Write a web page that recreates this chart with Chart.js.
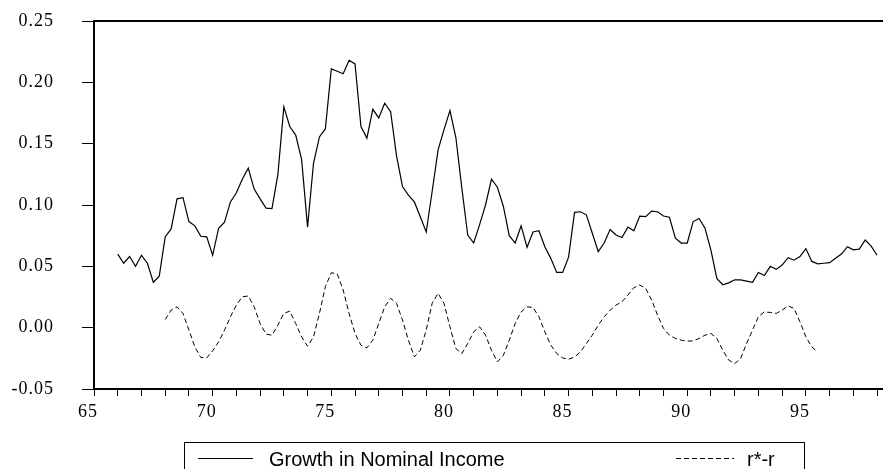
<!DOCTYPE html>
<html>
<head>
<meta charset="utf-8">
<script src="https://cdn.jsdelivr.net/npm/chart.js@4.4.1/dist/chart.umd.min.js"></script>
<style>
  html, body { margin: 0; padding: 0; background: #fff; }
  #wrap { position: relative; width: 883px; height: 469px; }
</style>
</head>
<body>
<div id="wrap"><canvas id="chart" width="883" height="469"></canvas></div>
<script>
// Quarterly series
const INCOME_START = 66;   // first quarter of 1966
const GAP_START = 68;      // first quarter of 1968

const incomeGrowth = [
    0.060, 0.0525, 0.058, 0.050,     // 66
    0.059, 0.0525, 0.037, 0.042,     // 67
    0.074, 0.0805, 0.105, 0.106,     // 68
    0.0865, 0.083, 0.0745, 0.074,    // 69
    0.059, 0.081, 0.086, 0.1025,     // 70
    0.110, 0.121, 0.130, 0.113,      // 71
    0.105, 0.0975, 0.097, 0.125,     // 72
    0.180, 0.164, 0.157, 0.137,      // 73
    0.082, 0.134, 0.1555, 0.162,     // 74
    0.211, 0.209, 0.207, 0.218,      // 75
    0.215, 0.164, 0.1545, 0.178,     // 76
    0.171, 0.183, 0.176, 0.140,      // 77
    0.115, 0.108, 0.1025, 0.0905,    // 78
    0.078, 0.111, 0.145, 0.1615,     // 79
    0.177, 0.155, 0.114, 0.0755,     // 80
    0.069, 0.084, 0.100, 0.121,      // 81
    0.1145, 0.099, 0.075, 0.069,     // 82
    0.083, 0.0655, 0.078, 0.079,     // 83
    0.066, 0.0565, 0.045, 0.045,     // 84
    0.0575, 0.094, 0.0945, 0.092,    // 85
    0.077, 0.062, 0.069, 0.080,      // 86
    0.0755, 0.0735, 0.082, 0.079,    // 87
    0.091, 0.0905, 0.095, 0.0945,    // 88
    0.091, 0.090, 0.073, 0.069,      // 89
    0.069, 0.0865, 0.089, 0.081,     // 90
    0.063, 0.040, 0.035, 0.0365,     // 91
    0.039, 0.039, 0.038, 0.037,      // 92
    0.045, 0.0425, 0.050, 0.0475,    // 93
    0.051, 0.057, 0.055, 0.058,      // 94
    0.0645, 0.054, 0.052, 0.0525,    // 95
    0.053, 0.0565, 0.060, 0.066,     // 96
    0.0635, 0.064, 0.0715, 0.0665,   // 97
    0.059                            // 98
];

const rStarGap = [
    0.0067, 0.0143, 0.017, 0.0116,       // 68
    -0.002, -0.0157, -0.0243, -0.0247,   // 69
    -0.0189, -0.0116, -0.002, 0.0089,    // 70
    0.0184, 0.0252, 0.0258, 0.017,       // 71
    0.0034, -0.0053, -0.0061, 0.0021,    // 72
    0.0116, 0.0135, 0.0034, -0.0075,     // 73
    -0.0151, -0.0075, 0.0116, 0.0334,    // 74
    0.0448, 0.0438, 0.0307, 0.0116,      // 75
    -0.0047, -0.0143, -0.0165, -0.0102,  // 76
    0.0034, 0.017, 0.0239, 0.0198,       // 77
    0.0062, -0.0102, -0.0238, -0.0184,   // 78
    -0.002, 0.0198, 0.028, 0.0198,       // 79
    0.0007, -0.017, -0.0211, -0.0129,    // 80
    -0.0034, 0.0007, -0.0061, -0.0184,   // 81
    -0.0279, -0.0225, -0.0102, 0.0035,   // 82
    0.0129, 0.017, 0.0165, 0.0089,       // 83
    -0.0034, -0.0143, -0.0211, -0.0247,  // 84
    -0.0257, -0.0239, -0.0198, -0.0129,  // 85
    -0.0061, 0.0021, 0.0089, 0.0143,     // 86
    0.0184, 0.0211, 0.0266, 0.0326,      // 87
    0.0348, 0.032, 0.0225, 0.0102,       // 88
    -0.0006, -0.0061, -0.0088, -0.0102,  // 89
    -0.011, -0.0107, -0.0088, -0.0061,   // 90
    -0.0047, -0.0088, -0.0184, -0.0265,  // 91
    -0.0293, -0.0252, -0.0129, -0.002,   // 92
    0.0089, 0.0129, 0.0124, 0.0116,      // 93
    0.0143, 0.0178, 0.0157, 0.0048,      // 94
    -0.0075, -0.0157, -0.0198            // 95
];

const seriesLabels = ['Growth in Nominal Income', 'r*-r'];
const xLabelYears = [65, 70, 75, 80, 85, 90, 95];

function toPoints(start, values) {
    return values.map((v, i) => ({ x: start + i / 4, y: v }));
}

const SERIF = "'Liberation Serif', 'Times New Roman', serif";
const SANS = "'Liberation Sans', Arial, sans-serif";

// top frame line + boxed legend underneath the axis
const frameAndLegend = {
    id: 'frameAndLegend',
    beforeDraw(chart) {
        // the tick labels in the original are loosely spaced
        chart.ctx.letterSpacing = '1px';
    },
    afterDraw(chart) {
        const { ctx, chartArea } = chart;
        ctx.save();
        ctx.letterSpacing = '0px';
        ctx.strokeStyle = '#000';
        ctx.lineWidth = 2;
        ctx.beginPath();
        ctx.moveTo(chartArea.left - 1, chartArea.top);
        ctx.lineTo(chart.width, chartArea.top);
        ctx.stroke();

        ctx.lineWidth = 1;
        ctx.strokeRect(184.5, 442.5, 620, 40);

        const slots = [
            { x0: 198, x1: 253, tx: 269 },
            { x0: 676, x1: 734, tx: 747 }
        ];
        ctx.font = '20px ' + SANS;
        ctx.fillStyle = '#000';
        ctx.textBaseline = 'alphabetic';
        chart.data.datasets.forEach((ds, i) => {
            const s = slots[i];
            ctx.setLineDash(ds.borderDash || []);
            ctx.beginPath();
            ctx.moveTo(s.x0, 458.5);
            ctx.lineTo(s.x1, 458.5);
            ctx.stroke();
            ctx.setLineDash([]);
            ctx.fillText(ds.label, s.tx, 465.5);
        });
        ctx.restore();
        ctx.letterSpacing = '0px';
    }
};

new Chart(document.getElementById('chart'), {
    type: 'line',
    data: {
        datasets: [
            {
                label: seriesLabels[0],
                data: toPoints(INCOME_START, incomeGrowth),
                borderColor: '#000',
                borderWidth: 1.2,
                pointRadius: 0,
                tension: 0
            },
            {
                label: seriesLabels[1],
                data: toPoints(GAP_START, rStarGap),
                borderColor: '#000',
                borderWidth: 1,
                borderDash: [5, 3],
                pointRadius: 0,
                tension: 0
            }
        ]
    },
    options: {
        responsive: false,
        animation: false,
        devicePixelRatio: 1,
        layout: { padding: { top: 21, right: 0, left: 0, bottom: 0 } },
        plugins: {
            legend: { display: false },
            tooltip: { enabled: false }
        },
        scales: {
            x: {
                type: 'linear',
                min: 65,
                max: 98.25,
                afterFit: (scale) => { scale.height = 80; },
                border: { display: true, color: '#000', width: 2 },
                grid: {
                    drawOnChartArea: false,
                    drawTicks: true,
                    tickLength: 7,
                    color: '#000',
                    lineWidth: 1
                },
                ticks: {
                    stepSize: 1,
                    autoSkip: false,
                    includeBounds: false,
                    maxRotation: 0,
                    padding: 5,
                    labelOffset: -6,
                    color: '#000',
                    font: { family: SERIF, size: 18 },
                    callback: (v) => (xLabelYears.includes(v) ? String(v) : '')
                }
            },
            y: {
                min: -0.05,
                max: 0.25,
                afterFit: (scale) => {
                    scale.width = 94;
                    // label padding should not push the plot down
                    scale.paddingTop = 0;
                    scale.paddingBottom = 0;
                },
                border: { display: true, color: '#000', width: 2 },
                grid: {
                    drawOnChartArea: false,
                    drawTicks: true,
                    tickLength: 12,
                    color: '#000',
                    lineWidth: 1
                },
                ticks: {
                    stepSize: 0.05,
                    padding: 28,
                    color: '#000',
                    font: { family: SERIF, size: 18 },
                    callback: (v) => (Math.abs(v) < 1e-9 ? 0 : v).toFixed(2)
                }
            }
        }
    },
    plugins: [frameAndLegend]
});
</script>
</body>
</html>
